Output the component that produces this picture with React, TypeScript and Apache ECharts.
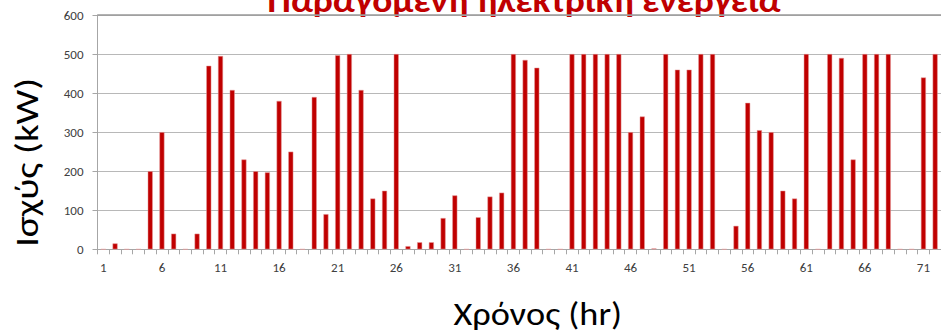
import React, { useEffect, useRef } from "react";
import * as echarts from "echarts";

const hours: string[] = Array.from({ length: 72 }, (_, i) => String(i + 1));
const powerKW: number[] = [
  0, 15, 0, 0, 200, 300, 40, 0, 40, 470,
  495, 408, 230, 200, 197, 380, 250, 0, 390, 90,
  497, 500, 408, 130, 150, 500, 8, 18, 18, 80,
  138, 0, 82, 135, 145, 500, 485, 465, 0, 0,
  500, 500, 500, 500, 500, 300, 340, 2, 500, 460,
  460, 500, 500, 0, 60, 375, 305, 300, 150, 130,
  500, 0, 500, 490, 230, 500, 500, 500, 0, 0,
  440, 500,
];
const titleText = "Παραγόμενη ηλεκτρική ενέργεια";
const yTitle = "Ισχύς (kW)";
const xTitle = "Χρόνος (hr)";

const FONT = "Carlito, 'Liberation Sans Narrow', 'Open Sans', sans-serif";

export default function App() {
  const ref = useRef<HTMLDivElement>(null);
  useEffect(() => {
    if (!ref.current) return;
    const chart = echarts.init(ref.current, undefined, { renderer: "svg" });
    chart.setOption({
      animation: false,
      backgroundColor: "#ffffff",
      grid: { left: 97.5, top: 15, width: 846.7, height: 234.3, containLabel: false },
      xAxis: {
        type: "category",
        data: hours,
        boundaryGap: true,
        axisLine: { show: true, lineStyle: { color: "#a6a6a6", width: 1 } },
        axisTick: { show: true, interval: 0, length: 5, lineStyle: { color: "#a6a6a6" } },
        axisLabel: { interval: 4, margin: 12, color: "#404040", fontSize: 13, fontFamily: FONT },
        splitLine: { show: false },
      },
      yAxis: {
        type: "value",
        min: 0,
        max: 600,
        interval: 100,
        axisLine: { show: true, lineStyle: { color: "#a6a6a6", width: 1 } },
        axisTick: { show: true, length: 5, lineStyle: { color: "#a6a6a6" } },
        axisLabel: { margin: 14, color: "#404040", fontSize: 13, fontFamily: FONT },
        splitLine: { show: true, lineStyle: { color: "#b8b8b8", width: 1 } },
      },
      series: [
        {
          type: "bar",
          data: powerKW,
          barWidth: 5,
          itemStyle: { color: "#c00000", borderColor: "#e49a9a", borderWidth: 0.5 },
        },
      ],
      graphic: [
        {
          type: "line",
          shape: { x1: 97.5, y1: 15, x2: 941, y2: 15 },
          style: { stroke: "#999999", lineWidth: 1.5 },
          z: 10,
        },
        {
          type: "text",
          x: 524,
          y: 0.5,
          scaleX: 1.1,
          style: {
            text: titleText,
            fill: "#c00000",
            font: `bold 34px ${FONT}`,
            textAlign: "center",
            textVerticalAlign: "middle",
          },
        },
        {
          type: "text",
          x: 27,
          y: 162.5,
          rotation: Math.PI / 2,
          scaleX: 1.18,
          style: {
            text: yTitle,
            fill: "#000000",
            font: `33px ${FONT}`,
            textAlign: "center",
            textVerticalAlign: "middle",
          },
        },
        {
          type: "text",
          x: 537.7,
          y: 313.7,
          scaleX: 1.1,
          style: {
            text: xTitle,
            fill: "#000000",
            font: `33px ${FONT}`,
            textAlign: "center",
            textVerticalAlign: "middle",
          },
        },
      ],
    });
    return () => chart.dispose();
  }, []);
  return (
    <div
      ref={ref}
      style={{ position: "fixed", left: 0, top: 0, width: 941, height: 330, background: "#fff" }}
    />
  );
}
